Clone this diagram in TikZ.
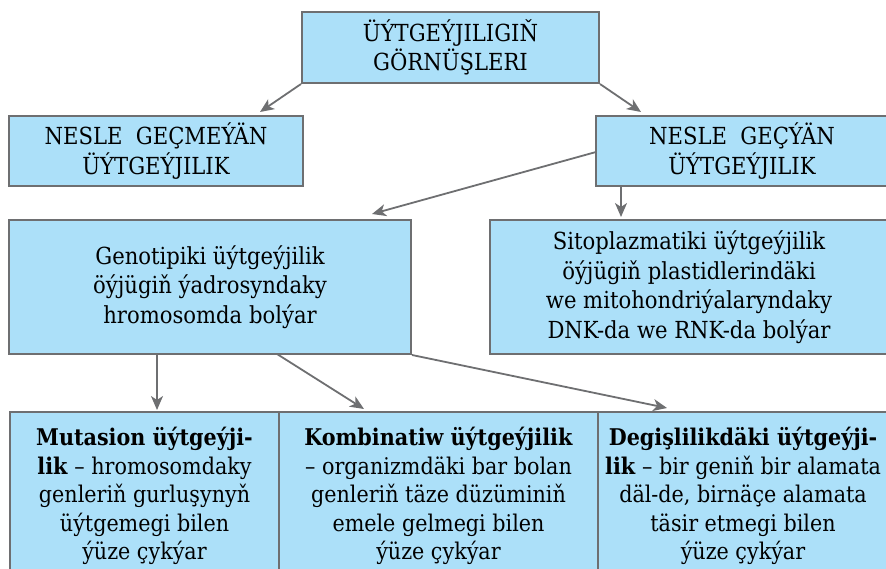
\documentclass[tikz,border=0pt]{standalone}
\usepackage{fontspec}
\setmainfont{DejaVu Serif Condensed}
\usetikzlibrary{arrows.meta}
\definecolor{boxfill}{RGB}{172,224,249}
\definecolor{edge}{RGB}{110,111,113}
\begin{document}
\begin{tikzpicture}[x=1pt,y=-1pt,
 box/.style={draw=edge,line width=2pt,fill=boxfill,inner sep=0pt,align=center,font=\fontsize{23.5}{29.5}\selectfont},
 lowbox/.style={box,font=\fontsize{23}{28.5}\selectfont},
 arr/.style={draw=edge,line width=1.8pt,-{Stealth[length=14pt,width=12pt,inset=4pt]}}]
\useasboundingbox (0,0) rectangle (886,569);
\node[box,minimum width=297pt,minimum height=71pt] (top) at (450.5,47.5) {ÜÝTGEÝJILIGIŇ\\GÖRNÜŞLERI};
\node[box,minimum width=294pt,minimum height=70pt] (left) at (156,151) {NESLE\ \ GEÇMEÝÄN\\ÜÝTGEÝJILIK};
\node[box,minimum width=292pt,minimum height=70pt] (right) at (742,151) {NESLE\ \ GEÇÝÄN\\ÜÝTGEÝJILIK};
\node[box,minimum width=402pt,minimum height=134pt] (geno) at (210,287) {Genotipiki üýtgeýjilik\\öýjügiň ýadrosyndaky\\hromosomda bolýar};
\node[box,minimum width=398pt,minimum height=134pt] (sito) at (689,287) {Sitoplazmatiki üýtgeýjilik\\öýjügiň plastidlerindäki\\we mitohondriýalaryndaky\\DNK-da we RNK-da bolýar};
\node[lowbox,minimum width=269pt,minimum height=168pt] (mut) at (144.5,496) {\textbf{Mutasion üýtgeýji-}\\\textbf{lik} – hromosomdaky\\genleriň gurluşynyň\\üýtgemegi bilen\\ýüze çykýar};
\node[lowbox,minimum width=319pt,minimum height=168pt] (komb) at (438.5,496) {\textbf{Kombinatiw üýtgeýjilik}\\– organizmdäki bar bolan\\genleriň täze düzüminiň\\emele gelmegi bilen\\ýüze çykýar};
\node[lowbox,minimum width=290pt,minimum height=168pt] (degi) at (743,496) {\textbf{Degişlilikdäki üýtgeýji-}\\\textbf{lik} – bir geniň bir alamata\\däl-de, birnäçe alamata\\täsir etmegi bilen\\ýüze çykýar};
\coordinate (t1) at (260,112);
\coordinate (t2) at (641,112);
\coordinate (s3) at (596,152);
\coordinate (t3) at (372,214);
\coordinate (s4) at (621,186);
\coordinate (t4) at (621,217);
\coordinate (s5) at (157,354);
\coordinate (t5) at (157,410);
\coordinate (s6) at (277,354);
\coordinate (t6) at (364,409);
\coordinate (t7) at (667,408);
\draw[arr] (top.south west) -- (t1);
\draw[arr] (top.south east) -- (t2);
\draw[arr] (s3) -- (t3);
\draw[arr] (s4) -- (t4);
\draw[arr] (s5) -- (t5);
\draw[arr] (s6) -- (t6);
\draw[arr] (geno.south east) -- (t7);
\end{tikzpicture}
\end{document}
